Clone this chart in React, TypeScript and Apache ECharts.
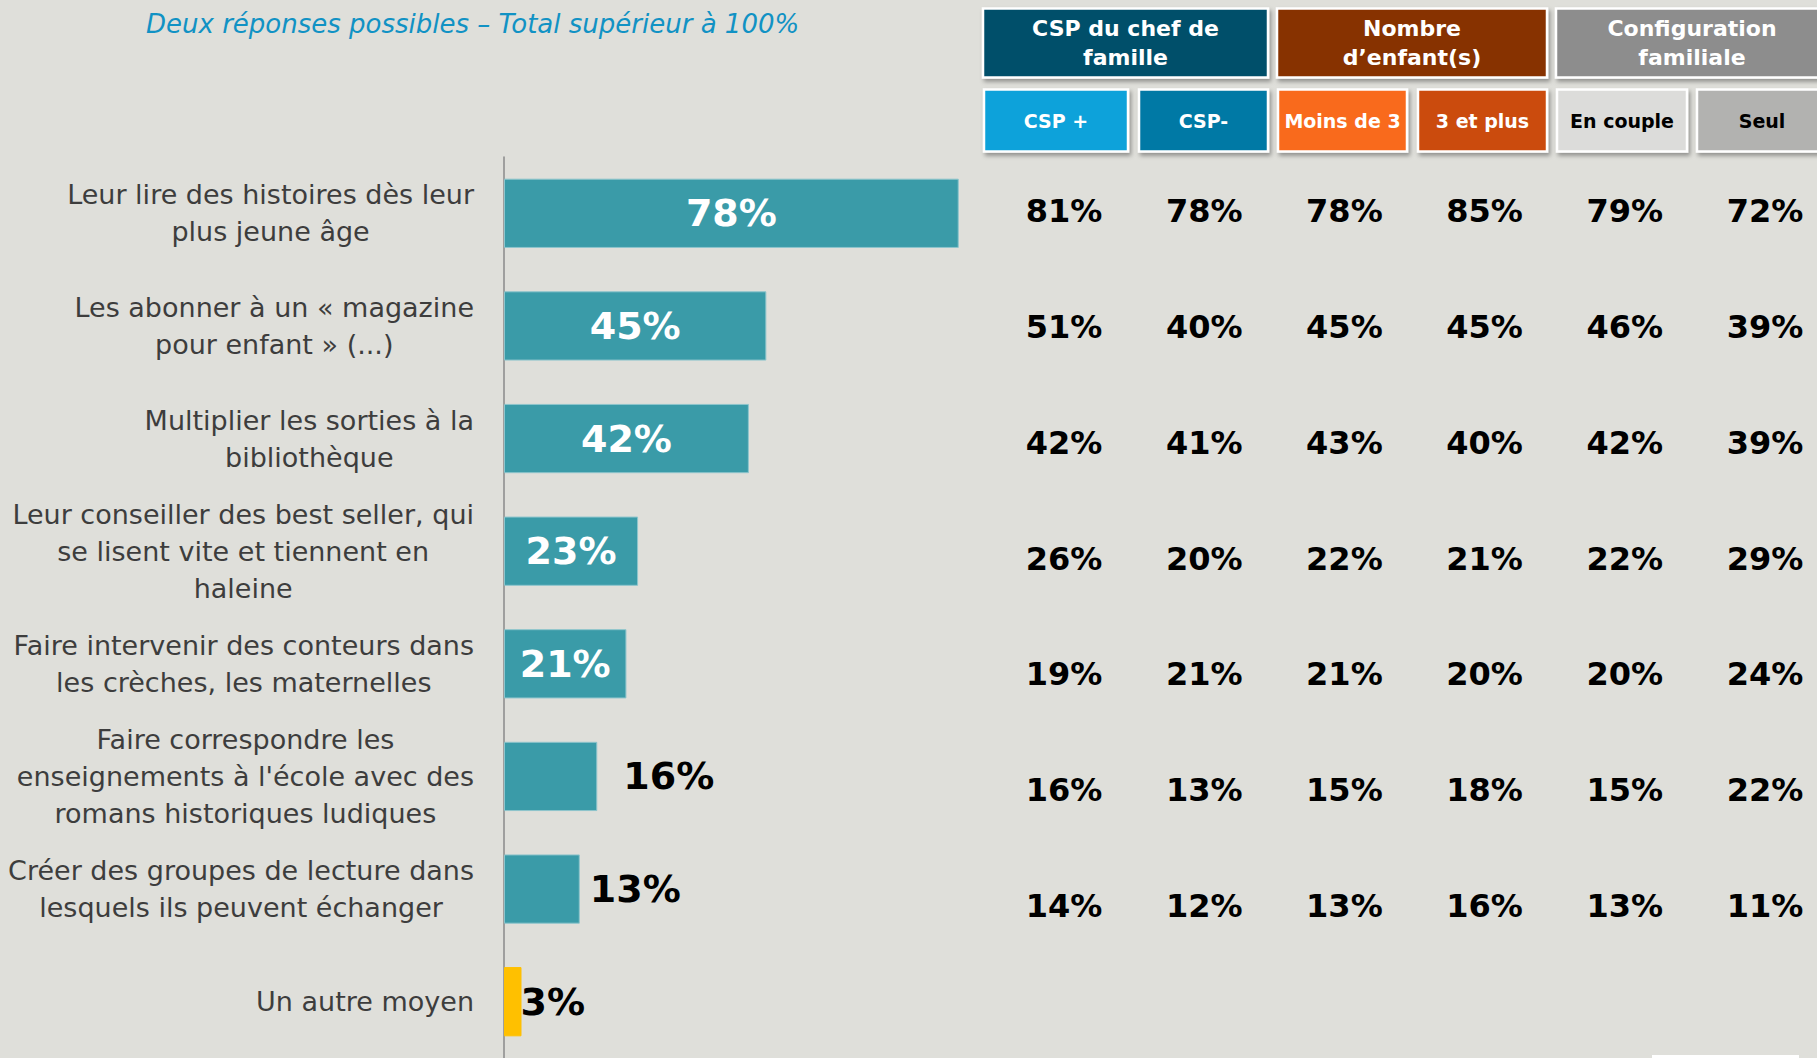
import React, { useEffect, useRef } from "react";
import * as echarts from "echarts";

const categories = [
  "Leur lire des histoires dès leur\nplus jeune âge",
  "Les abonner à un « magazine\npour enfant » (...)",
  "Multiplier les sorties à la\nbibliothèque",
  "Leur conseiller des best seller, qui\nse lisent vite et tiennent en\nhaleine",
  "Faire intervenir des conteurs dans\nles crèches, les maternelles",
  "Faire correspondre les\nenseignements à l'école avec des\nromans historiques ludiques",
  "Créer des groupes de lecture dans\nlesquels ils peuvent échanger",
  "Un autre moyen",
];
const totalValues = [78, 45, 42, 23, 21, 16, 13, 3];

const groupHeaders = ["CSP du chef de\nfamille", "Nombre\nd’enfant(s)", "Configuration\nfamiliale"];
const columnHeaders = ["CSP +", "CSP-", "Moins de 3", "3 et plus", "En couple", "Seul"];

const cspPlus = [81, 51, 42, 26, 19, 16, 14];
const cspMinus = [78, 40, 41, 20, 21, 13, 12];
const moinsDe3 = [78, 45, 43, 22, 21, 15, 13];
const troisEtPlus = [85, 45, 40, 21, 20, 18, 16];
const enCouple = [79, 46, 42, 22, 20, 15, 13];
const seul = [72, 39, 39, 29, 24, 22, 11];
const tableColumns = [cspPlus, cspMinus, moinsDe3, troisEtPlus, enCouple, seul];

const subtitle = "Deux réponses possibles – Total supérieur à 100%";

const BG = "#DFDFDA";
const FONT = "DejaVu Sans";

export default function App() {
  const ref = useRef<HTMLDivElement>(null);

  useEffect(() => {
    document.body.style.margin = "0";
    document.body.style.background = BG;
    const chart = echarts.init(ref.current!, null, { renderer: "svg", width: 1817, height: 1058 });

    const outsideLabel: Record<number, number> = { 5: 26, 6: 10, 7: -1 };

    const barData = totalValues.map((v, i) => {
      const item: any = { value: v };
      if (i === totalValues.length - 1) item.itemStyle = { color: "#FFC000", borderColor: "#FFC000" };
      if (outsideLabel[i] !== undefined) {
        item.label = { position: "right", distance: outsideLabel[i], color: "#000" };
      }
      return item;
    });

    const tableRows = categories.slice(0, tableColumns[0].length);

    const option: any = {
      animation: false,
      backgroundColor: BG,
      grid: [
        { left: 504, top: 157, width: 583, height: 905 },
        { left: 1064, top: 153, width: 701, height: 811 },
      ],
      xAxis: [
        { type: "value", min: 0, max: 100, show: false, gridIndex: 0 },
        { type: "category", data: columnHeaders, show: false, boundaryGap: false, gridIndex: 1 },
      ],
      yAxis: [
        {
          type: "category",
          data: categories,
          inverse: true,
          gridIndex: 0,
          axisLine: { show: true, lineStyle: { color: "#8a8a8a", width: 1.5 } },
          axisTick: { show: false },
          axisLabel: { show: false },
        },
        { type: "category", data: tableRows, inverse: true, show: false, gridIndex: 1 },
      ],
      series: [
        {
          type: "bar",
          xAxisIndex: 0,
          yAxisIndex: 0,
          data: barData,
          barCategoryGap: "38.5%",
          itemStyle: { color: "#3A9BA8", borderColor: "#8EC5CC", borderWidth: 1 },
          label: {
            show: true,
            position: "inside",
            formatter: "{c}%",
            color: "#fff",
            fontSize: 38,
            fontWeight: "bold",
            fontFamily: FONT,
          },
        },
        ...tableColumns.map((col, c) => ({
          type: "scatter",
          xAxisIndex: 1,
          yAxisIndex: 1,
          symbolSize: 1,
          itemStyle: { color: "rgba(0,0,0,0)", opacity: 1 },
          data: col.map((v, r) => [columnHeaders[c], tableRows[r], v]),
          label: {
            show: true,
            position: "inside",
            formatter: (p: any) => p.value[2] + "%",
            color: "#000",
            opacity: 1,
            textBorderWidth: 0,
            fontSize: 32,
            fontWeight: "bold",
            fontFamily: FONT,
          },
        })),
      ],
    };
    chart.setOption(option);

    // graphics
    const ctx = document.createElement("canvas").getContext("2d")!;
    const CAT_FS = 27;
    ctx.font = `${CAT_FS}px "${FONT}"`;
    const labelRight = 474;
    const catLabels = categories.map((c) => {
      const y = chart.convertToPixel({ yAxisIndex: 0 }, c) as number;
      const w = Math.max(...c.split("\n").map((l) => ctx.measureText(l).width));
      return {
        type: "text",
        x: labelRight - w / 2,
        y,
        style: {
          text: c,
          fontSize: CAT_FS,
          fontFamily: FONT,
          fill: "#3d3d3d",
          align: "center",
          textAlign: "center",
          verticalAlign: "middle",
          textVerticalAlign: "middle",
          lineHeight: 37,
        },
      };
    });

    const shadow = { shadowBlur: 4, shadowColor: "rgba(0,0,0,0.35)", shadowOffsetX: 2, shadowOffsetY: 3 };
    const topBoxes = [
      { x: 983, w: 285, fill: "#054F6B" },
      { x: 1277, w: 270, fill: "#873305" },
      { x: 1556, w: 272, fill: "#8D8D8D" },
    ];
    const lowBoxes = [
      { x: 984, w: 144, fill: "#0AA2DA", text: "#fff" },
      { x: 1139, w: 129, fill: "#0679A5", text: "#fff" },
      { x: 1278, w: 129, fill: "#F96B1E", text: "#fff" },
      { x: 1418, w: 129, fill: "#CB4B0A", text: "#fff" },
      { x: 1557, w: 130, fill: "#DCDCDA", text: "#000" },
      { x: 1697, w: 130, fill: "#B2B2B0", text: "#000" },
    ];
    const headerEls: any[] = [];
    topBoxes.forEach((b, i) => {
      headerEls.push({
        type: "rect",
        shape: { x: b.x, y: 8.5, width: b.w, height: 69 },
        style: { fill: b.fill, stroke: "#fff", lineWidth: 2.5, ...shadow },
      });
      headerEls.push({
        type: "text",
        x: b.x + b.w / 2,
        y: 43,
        style: {
          text: groupHeaders[i],
          fontSize: 22,
          fontWeight: "bold",
          fontFamily: FONT,
          fill: "#fff",
          align: "center",
          textAlign: "center",
          verticalAlign: "middle",
          textVerticalAlign: "middle",
          lineHeight: 29,
        },
      });
    });
    lowBoxes.forEach((b, i) => {
      headerEls.push({
        type: "rect",
        shape: { x: b.x, y: 89.5, width: b.w, height: 62 },
        style: { fill: b.fill, stroke: "#fff", lineWidth: 2.5, ...shadow },
      });
      headerEls.push({
        type: "text",
        x: b.x + Math.min(b.w, 130) / 2 + (i === 0 ? 7 : 0),
        y: 121,
        style: {
          text: columnHeaders[i],
          fontSize: 19,
          fontWeight: "bold",
          fontFamily: FONT,
          fill: b.text,
          align: "center",
          textAlign: "center",
          verticalAlign: "middle",
          textVerticalAlign: "middle",
        },
      });
    });

    chart.setOption({
      graphic: [
        {
          type: "text",
          x: 146,
          y: 24,
          style: {
            text: subtitle,
            fontSize: 26,
            fontStyle: "italic",
            fontFamily: FONT,
            fill: "#1192C4",
            verticalAlign: "middle",
            textVerticalAlign: "middle",
          },
        },
        ...headerEls,
        ...catLabels,
        { type: "rect", shape: { x: 1652, y: 1055, width: 147, height: 5 }, style: { fill: "#fff" } },
      ],
    });

    return () => chart.dispose();
  }, []);

  return <div ref={ref} style={{ position: "absolute", left: 0, top: 0, width: 1817, height: 1058 }} />;
}
